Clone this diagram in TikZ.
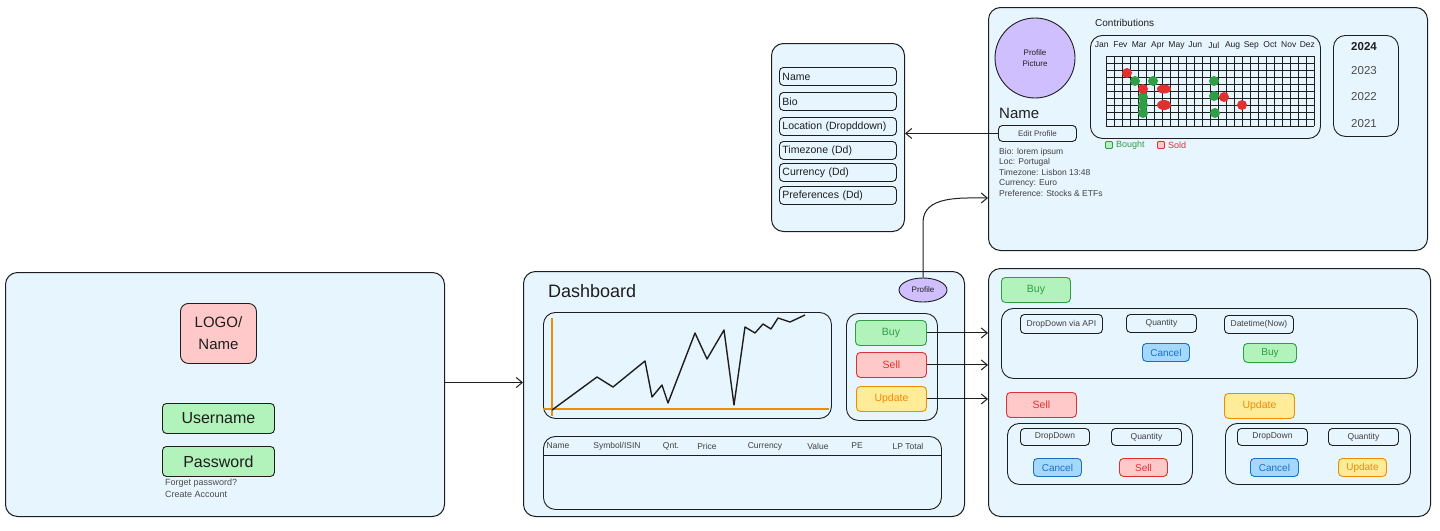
\documentclass[tikz,border=0pt]{standalone}
\usepackage{fontspec}
\setmainfont{Liberation Sans}
\usetikzlibrary{positioning}
\usetikzlibrary{arrows.meta}
\usetikzlibrary{shapes.geometric}

\definecolor{ink}{HTML}{1E1E1E}
\definecolor{paper}{HTML}{E7F5FF}
\definecolor{greenfill}{HTML}{B2F2BB}
\definecolor{greenline}{HTML}{2F9E44}
\definecolor{redfill}{HTML}{FFC9C9}
\definecolor{redline}{HTML}{E03131}
\definecolor{yellowfill}{HTML}{FFEC99}
\definecolor{yellowline}{HTML}{F08C00}
\definecolor{bluefill}{HTML}{A5D8FF}
\definecolor{blueline}{HTML}{1971C2}
\definecolor{purplefill}{HTML}{D0BFFF}

\newcommand{\fsz}[1]{\fontsize{#1}{#1}\selectfont}

\begin{document}
\begin{tikzpicture}[x=1pt,y=-1pt,
    every node/.style={align=center, inner sep=0pt, text=ink},
    panel/.style={draw=ink, fill=paper, line width=1pt, rounded corners=12pt, anchor=north west},
    box/.style={draw=ink, line width=0.9pt, rounded corners=4pt, anchor=north west},
    frame/.style={box, rounded corners=12pt},
    small/.style={box, font=\fsz{8.5}, text=ink!85},
    field/.style={box, text width=111, inner xsep=3pt, minimum height=18, align=left, font=\fsz{10.5}},
    greenbtn/.style={box, fill=greenfill, draw=greenline, text=greenline, font=\fsz{10.5}},
    redbtn/.style={box, fill=redfill, draw=redline, text=redline, font=\fsz{10.5}},
    yellowbtn/.style={box, fill=yellowfill, draw=yellowline, text=yellowline, font=\fsz{10.5}},
    bluebtn/.style={box, fill=bluefill, draw=blueline, text=blueline, font=\fsz{10}},
    arr/.style={draw=ink, line width=1pt, -{Straight Barb[length=6pt,width=10pt]}}]
\useasboundingbox (0,0) rectangle (1440,530);

% login screen
\node[panel, minimum width=439, minimum height=244] (login) at (5,272) {};
\node[box, fill=redfill, rounded corners=8pt, minimum width=76, minimum height=60, font=\fontsize{15}{22}\selectfont] (logo) at (180,303) {LOGO/\\Name};
\node[box, fill=greenfill, minimum width=112, minimum height=30, font=\fsz{16}] (user) at (162,403) {Username};
\node[box, fill=greenfill, minimum width=112, minimum height=30, font=\fsz{16}] (pass) at (162,446) {Password};
\node[anchor=north west, align=left, text=ink!80, font=\fontsize{9}{12}\selectfont] (links) at (165,479) {Forget password?\\Create Account};

% dashboard
\node[panel, minimum width=441, minimum height=245] (dash) at (523,271) {};
\node[anchor=west, font=\fsz{18}] (dtitle) at (548,291) {Dashboard};
\node[ellipse, draw=ink, fill=purplefill, line width=0.9pt, minimum width=48, minimum height=24, font=\fsz{8}] (prof) at (923,290) {Profile};
\node[frame, minimum width=288, minimum height=106] (chart) at (543,312) {};
\draw[yellowline, line width=1.4pt] (552,318) -- (552,416) (543,409) -- (829,409);
\draw[ink, line width=1.4pt, line join=round] plot coordinates {(552,410) (597,377) (613,387) (645,361) (652,397) (662,385) (668,403) (695,333) (707,359) (724,330) (734,405) (745,327) (755,333) (763,324) (771,329) (778,318) (790,322) (805,315)};
\node[frame, minimum width=91, minimum height=107] (acts) at (846,313) {};
\node[greenbtn, minimum width=71, minimum height=25] (dbuy) at (855,320) {Buy};
\node[redbtn, minimum width=70, minimum height=25] (dsell) at (856,352) {Sell};
\node[yellowbtn, minimum width=70, minimum height=25] (dupd) at (856,386) {Update};
\node[frame, minimum width=398, minimum height=73] (table) at (543,436) {};
\draw[ink, line width=0.9pt] (table.west |- 0,455) -- (table.east |- 0,455);
\foreach \x/\t in {558/Name, 617/{Symbol/ISIN}, 671/Qnt., 707/Price, 765/Currency, 818/Value, 857/PE, 908/LP Total}
    \node[font=\fsz{8.5}, text=ink!85] at (\x,446) {\t};

% profile page
\node[panel, minimum width=439, minimum height=243] (pro) at (988,7) {};
\node[circle, draw=ink, fill=purplefill, line width=0.9pt, minimum size=80, font=\fontsize{8}{11}\selectfont] (pic) at (1035,58) {Profile\\Picture};
\node[anchor=west, font=\fsz{15}] (pname) at (999,113) {Name};
\node[box, minimum width=78, minimum height=16, font=\fsz{8}, text=ink!85] (edit) at (998,125) {Edit Profile};
\node[anchor=north west, align=left, text=ink!85, font=\fontsize{8.5}{10.5}\selectfont] (bio) at (999,148) {Bio: lorem ipsum\\Loc: Portugal\\Timezone: Lisbon 13:48\\Currency: Euro\\Preference: Stocks \& ETFs};
\node[anchor=west, font=\fsz{10}] (contrib) at (1095,23) {Contributions};
\node[frame, minimum width=230, minimum height=103] (cal) at (1090,35) {};
\foreach \m [count=\i from 0] in {Jan,Fev,Mar,Apr,May,Jun,Jul,Aug,Sep,Oct,Nov,Dez}
    \node[font=\fsz{8.5}] at (1101.7+\i*18.7,45) {\m};
\foreach \i in {0,...,26}
    \draw[ink, line width=0.8pt] (1106+\i*8,56) -- (1106+\i*8,126);
\foreach \j in {0,...,10}
    \draw[ink, line width=0.8pt] (1106,56+\j*7) -- (1314,56+\j*7);
\foreach \x/\y/\c in {1135/81/greenline, 1153/81/greenline, 1143/97/greenline, 1143/105/greenline, 1143/113/greenline, 1214/81/greenline, 1214/96/greenline, 1215/113/greenline, 1127/73/redline, 1143/89/redline, 1224/97/redline, 1242/105/redline}
    \fill[\c] (\x,\y) circle[radius=5];
\fill[redline] (1164,89) ellipse[x radius=7, y radius=4.5];
\fill[redline] (1164,105) ellipse[x radius=7, y radius=5];
\node[draw=greenline, fill=greenfill, line width=0.8pt, rounded corners=1pt, minimum size=7] (lb) at (1109,145) {};
\node[right=3pt of lb, text=greenline, font=\fsz{9}] (lbt) {Bought};
\node[draw=redline, fill=redfill, line width=0.8pt, rounded corners=1pt, minimum size=7] (ls) at (1161,145) {};
\node[right=3pt of ls, text=redline, font=\fsz{9}] (lst) {Sold};
\node[frame, minimum width=65, minimum height=101] (years) at (1333,35) {};
\node[font=\bfseries\fsz{11.5}] (y24) at (1364,47) {2024};
\foreach \y/\t in {71/2023, 97/2022, 124/2021}
    \node[font=\fsz{11.5}, text=ink!80] at (1364,\y) {\t};

% edit profile form
\node[panel, minimum width=133, minimum height=188] (form) at (771,43) {};
\foreach \y/\t in {67/Name, 92/Bio, 117/{Location (Dropddown)}, 141/{Timezone (Dd)}, 163/{Currency (Dd)}, 186/{Preferences (Dd)}}
    \node[field] at (779,\y) {\t};

% trade actions
\node[panel, minimum width=442, minimum height=248] (trade) at (988,268) {};
\node[greenbtn, minimum width=69, minimum height=25] (tbuy) at (1001,277) {Buy};
\node[frame, minimum width=416, minimum height=70] (buygrp) at (1001,308) {};
\node[small, minimum width=82, minimum height=19] (bdrop) at (1020,314) {DropDown via API};
\node[small, minimum width=70, minimum height=18] (bqty) at (1126,314) {Quantity};
\node[small, minimum width=69, minimum height=18] (bdate) at (1224,315) {Datetime(Now)};
\node[bluebtn, minimum width=47, minimum height=18] (bcancel) at (1142,343) {Cancel};
\node[greenbtn, minimum width=53, minimum height=19, font=\fsz{10}] (bok) at (1243,343) {Buy};
\node[redbtn, minimum width=70, minimum height=25] (tsell) at (1006,392) {Sell};
\node[frame, minimum width=185, minimum height=61] (sellgrp) at (1007,423) {};
\node[small, minimum width=69, minimum height=17] (sdrop) at (1020,428) {DropDown};
\node[small, minimum width=70, minimum height=17] (sqty) at (1111,428) {Quantity};
\node[bluebtn, minimum width=48, minimum height=18] (scancel) at (1033,458) {Cancel};
\node[redbtn, minimum width=48, minimum height=18, font=\fsz{10}] (sok) at (1119,458) {Sell};
\node[yellowbtn, minimum width=70, minimum height=25] (tupd) at (1224,393) {Update};
\node[frame, minimum width=185, minimum height=61] (updgrp) at (1225,423) {};
\node[small, minimum width=70, minimum height=17] (udrop) at (1237,428) {DropDown};
\node[small, minimum width=70, minimum height=17] (uqty) at (1328,428) {Quantity};
\node[bluebtn, minimum width=48, minimum height=18] (ucancel) at (1250,458) {Cancel};
\node[yellowbtn, minimum width=48, minimum height=18, font=\fsz{10}] (uok) at (1338,458) {Update};

\draw[arr] ([yshift=12pt]login.east) -- ([yshift=12pt]login.east -| dash.west);
\draw[arr] (dbuy.east) -- (dbuy.east -| trade.west);
\draw[arr] (dsell.east) -- (dsell.east -| trade.west);
\draw[arr] (dupd.east) -- (dupd.east -| trade.west);
\draw[arr] (prof.north) -- ++(0,-55) to[out=90, in=180] (pro.west |- 0,198);
\draw[arr] (edit.west) -- (edit.west -| form.east);
\end{tikzpicture}
\end{document}
